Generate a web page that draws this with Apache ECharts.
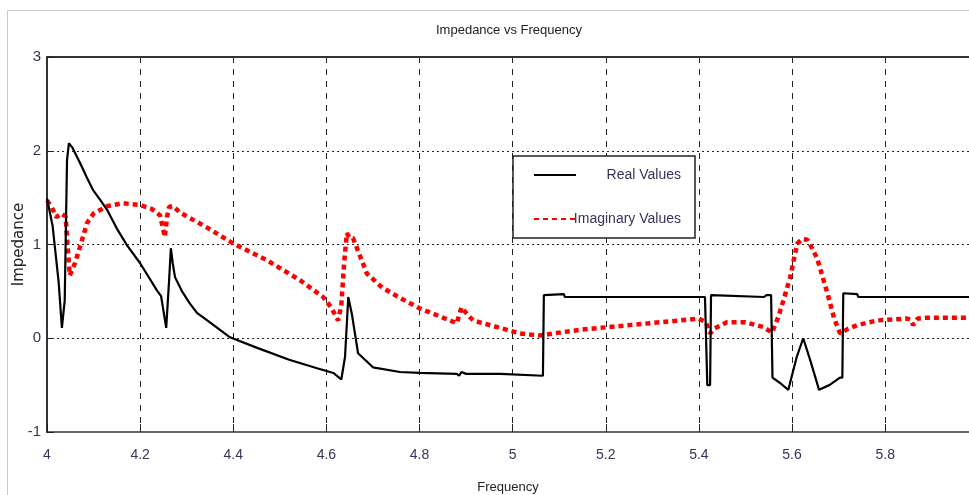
<!DOCTYPE html>
<html>
<head>
<meta charset="utf-8">
<title>Impedance vs Frequency</title>
<script src="https://cdn.jsdelivr.net/npm/echarts@6/dist/echarts.min.js"></script>
<style>
  html, body { margin: 0; padding: 0; background: #fff; }
  #chart { width: 969px; height: 495px; }
</style>
</head>
<body>
<div id="chart"></div>
<script>
// values
const realFreq = [4.000, 4.012, 4.025, 4.032, 4.038, 4.043, 4.047, 4.055, 4.071, 4.085, 4.099, 4.115, 4.129, 4.150, 4.172, 4.200, 4.220, 4.236, 4.245, 4.256, 4.262, 4.266, 4.270, 4.275, 4.290, 4.307, 4.322, 4.350, 4.393, 4.450, 4.520, 4.580, 4.615, 4.632, 4.640, 4.647, 4.655, 4.668, 4.700, 4.758, 4.800, 4.880, 4.885, 4.890, 4.894, 4.900, 4.973, 5.065, 5.067, 5.110, 5.112, 5.413, 5.418, 5.424, 5.426, 5.428, 5.540, 5.545, 5.555, 5.558, 5.575, 5.592, 5.610, 5.624, 5.640, 5.658, 5.680, 5.703, 5.708, 5.710, 5.740, 5.742, 5.980];
const realValues = [1.49, 1.20, 0.60, 0.11, 0.40, 1.90, 2.08, 2.03, 1.87, 1.72, 1.58, 1.47, 1.37, 1.17, 0.99, 0.80, 0.64, 0.51, 0.45, 0.11, 0.60, 0.96, 0.80, 0.65, 0.50, 0.37, 0.27, 0.17, 0.01, -0.10, -0.23, -0.32, -0.37, -0.44, -0.20, 0.44, 0.25, -0.16, -0.31, -0.36, -0.37, -0.38, -0.40, -0.36, -0.34, -0.38, -0.38, -0.40, 0.46, 0.47, 0.44, 0.44, -0.50, -0.50, 0.46, 0.44, 0.44, 0.46, 0.46, -0.42, -0.48, -0.55, -0.20, 0.00, -0.25, -0.55, -0.50, -0.42, -0.42, 0.48, 0.47, 0.44, 0.44];

const imagFreq = [4.000, 4.010, 4.020, 4.030, 4.040, 4.044, 4.049, 4.060, 4.070, 4.086, 4.100, 4.130, 4.163, 4.200, 4.225, 4.243, 4.253, 4.258, 4.262, 4.270, 4.286, 4.315, 4.344, 4.400, 4.473, 4.543, 4.593, 4.610, 4.625, 4.632, 4.638, 4.644, 4.650, 4.657, 4.672, 4.687, 4.720, 4.758, 4.800, 4.850, 4.880, 4.890, 4.900, 4.915, 4.973, 5.016, 5.059, 5.100, 5.145, 5.250, 5.360, 5.400, 5.415, 5.424, 5.432, 5.460, 5.500, 5.538, 5.557, 5.570, 5.580, 5.596, 5.611, 5.622, 5.633, 5.643, 5.654, 5.676, 5.690, 5.703, 5.720, 5.740, 5.783, 5.847, 5.855, 5.860, 5.870, 5.890, 5.980];
const imagValues = [1.47, 1.40, 1.29, 1.33, 1.30, 1.00, 0.67, 0.80, 0.96, 1.23, 1.33, 1.41, 1.44, 1.42, 1.38, 1.31, 1.08, 1.30, 1.40, 1.41, 1.34, 1.26, 1.18, 1.01, 0.83, 0.62, 0.44, 0.33, 0.19, 0.35, 0.80, 1.12, 1.07, 1.07, 0.88, 0.69, 0.54, 0.43, 0.32, 0.22, 0.16, 0.33, 0.27, 0.19, 0.11, 0.05, 0.03, 0.06, 0.09, 0.14, 0.19, 0.21, 0.17, 0.05, 0.10, 0.17, 0.17, 0.12, 0.06, 0.22, 0.38, 0.65, 1.01, 1.06, 1.05, 0.96, 0.85, 0.48, 0.22, 0.05, 0.10, 0.14, 0.19, 0.21, 0.20, 0.14, 0.21, 0.22, 0.22];

const seriesNames = ['Real Values', 'Imaginary Values'];

const font = '"Liberation Sans", Arial, sans-serif';
const labelColor = '#34345a';

const chart = echarts.init(document.getElementById('chart'));

const option = {
  backgroundColor: '#fff',
  animation: false,
  title: {
    text: 'Impedance vs Frequency',
    left: 431,
    top: 19,
    textStyle: { fontFamily: font, fontSize: 13, fontWeight: 'normal', color: '#222' }
  },
  graphic: [{
    type: 'rect',
    shape: { x: 7.5, y: 10.5, width: 980, height: 500 },
    style: { fill: 'none', stroke: '#c8c8c8', lineWidth: 1 },
    silent: true,
    z: -10
  }],
  legend: {
    orient: 'vertical',
    left: 513,
    top: 156,
    width: 181,
    padding: [12, 14, 12, 20],
    itemGap: 30,
    itemWidth: 42,
    itemHeight: 14,
    borderColor: '#222',
    borderWidth: 1.5,
    backgroundColor: '#fff',
    data: seriesNames,
    itemStyle: { opacity: 0 },
    formatter: '{a|{name}}',
    textStyle: {
      fontFamily: font,
      fontSize: 14,
      color: labelColor,
      rich: { a: { width: 100, align: 'right', fontFamily: font, fontSize: 14, color: labelColor } }
    }
  },
  grid: {
    left: 47,
    right: 0,
    top: 57,
    bottom: 63,
    outerBoundsMode: 'none'
  },
  xAxis: [{
    type: 'value',
    min: 4,
    max: 5.98,
    interval: 0.2,
    name: 'Frequency',
    nameLocation: 'middle',
    nameGap: 49,
    nameTextStyle: { fontFamily: font, fontSize: 13, color: '#222' },
    axisLine: { show: true, onZero: false, lineStyle: { color: '#333', width: 1.5 } },
    axisTick: { show: true, inside: true, length: 8, lineStyle: { color: '#222' } },
    axisLabel: { fontFamily: font, fontSize: 14, color: labelColor, margin: 16, showMaxLabel: false },
    splitLine: { show: true, showMinLine: false, showMaxLine: false, lineStyle: { color: '#222', type: [6, 6], width: 1 } }
  }, {
    type: 'value',
    position: 'top',
    min: 4,
    max: 5.98,
    interval: 0.2,
    axisLine: { show: true, onZero: false, lineStyle: { color: '#333', width: 2 } },
    axisTick: { show: false },
    axisLabel: { show: false },
    splitLine: { show: false }
  }],
  yAxis: {
    type: 'value',
    min: -1,
    max: 3,
    interval: 1,
    name: 'Impedance',
    nameLocation: 'middle',
    nameGap: 20,
    nameRotate: 90,
    nameMoveOverlap: false,
    nameTextStyle: { fontFamily: 'DejaVu Sans', fontSize: 15, color: '#222' },
    axisLine: { show: true, onZero: false, lineStyle: { color: '#333', width: 2 } },
    axisTick: { show: true, inside: true, length: 7, lineStyle: { color: '#222' } },
    axisLabel: { fontFamily: font, fontSize: 15, color: labelColor, margin: 6 },
    splitLine: { show: true, showMinLine: false, showMaxLine: false, lineStyle: { color: '#222', type: [2, 3], width: 1 } }
  },
  series: [{
    name: seriesNames[0],
    type: 'line',
    symbol: 'none',
    color: '#000',
    lineStyle: { color: '#000', width: 2.2 },
    data: realFreq.map((f, i) => [f, realValues[i]]),
    z: 3
  }, {
    name: seriesNames[1],
    type: 'line',
    symbol: 'none',
    color: '#ff0000',
    lineStyle: { color: '#ff0000', width: 4.5, type: [5, 4] },
    data: imagFreq.map((f, i) => [f, imagValues[i]]),
    z: 2
  }]
};

chart.setOption(option);

window.addEventListener('resize', () => {
  chart.resize();
});
</script>
</body>
</html>
